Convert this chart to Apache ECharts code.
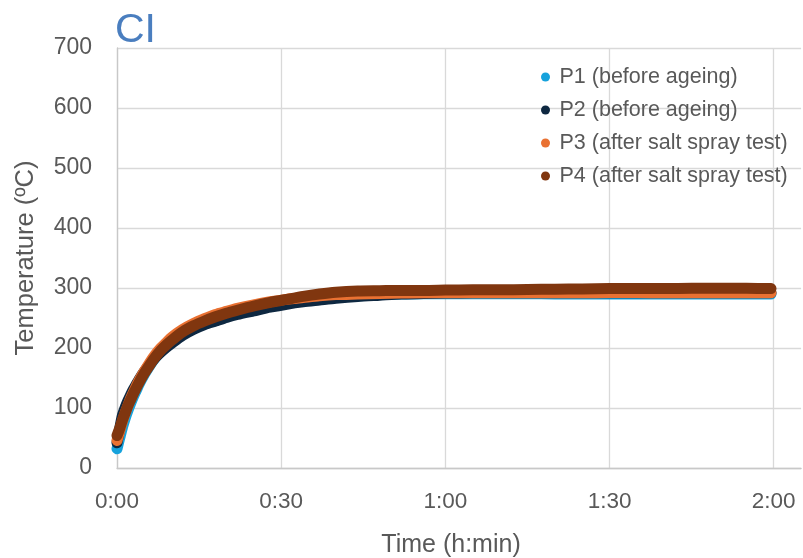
<!DOCTYPE html>
<html>
<head>
<meta charset="utf-8">
<script src="https://cdn.jsdelivr.net/npm/echarts@6/dist/echarts.min.js"></script>
<style>
html,body{margin:0;padding:0;background:#fff;}
#chart{width:803px;height:558px;}
</style>
</head>
<body>
<div id="chart"></div>
<script>
// time in minutes
var times = [0,0.5,1,1.5,2,2.5,3,3.5,4,5,6,7,8,9,10,12,14,16,18,20,22,25,28,31,34,37,40,44,48,52,56,60,65,70,75,80,85,90,95,100,105,110,115,119.5];
var p1 = [32,50,68,83,96,108,119,129,139,156,171,184,195,204,212,224,234,242,249,254,259,266,272,276,280,283,285,287,289,290,290.5,290.5,290.5,290.5,290.5,290,290,290,290,290,290,290,290,290];
var p2 = [42,66,88,101,112,122,131,139,147,161,173,184,193,201,208,221,231,239,245,251,256,262,268,273,277,280,283,286,288,290,291,291.5,292,292,292,292,292,292,292,292,292,292,292,292];
var p3 = [46,62,78,92,104,116,126,136,145,161,176,189,200,209,218,231,241,249,256,261,266,272,277,281,284,287,289,290,291,291.5,292,292,292,292,292,292,292,292.5,292.5,292,292,292,292,292];
var p4 = [54,66,80,92,104,114,124,133,142,158,172,185,196,205,213,227,237,245,252,258,263,270,276,281,286,290,293,295,295.5,296,296,296.5,297,297,297.5,298,298.5,299,299,299,299.5,299.5,299.5,299];
var seriesNames = ['P1 (before ageing)','P2 (before ageing)','P3 (after salt spray test)','P4 (after salt spray test)'];
var seriesColors = ['#16a2dc','#0e2841','#e97132','#80360f'];
var xTicks = [0,30,60,90,120];
var yTicks = [0,100,200,300,400,500,600,700];

function pairs(ys){ return times.map(function(t,i){ return [t, ys[i]]; }); }
var allData = [p1,p2,p3,p4];
var FONT = 'Liberation Sans, Arial, sans-serif';

var chart = echarts.init(document.getElementById('chart'), null, {renderer:'canvas'});
chart.setOption({
  animation:false,
  backgroundColor:'#fff',
  title:{
    text:'CI', left:115, top:10, padding:0,
    textStyle:{color:'#4a7ebf', fontSize:41, fontWeight:'normal', fontFamily:FONT}
  },
  legend:{
    orient:'vertical', left:536, top:61,
    icon:'circle', itemWidth:18, itemHeight:9, itemGap:11,
    textStyle:{color:'#595959', fontSize:21.5, fontFamily:FONT, lineHeight:22},
    data:seriesNames
  },
  grid:{left:117, top:48, bottom:90, right:1.9, containLabel:false, outerBoundsMode:'none'},
  xAxis:{
    type:'value', min:0, max:125, interval:30,
    name:'Time (h:min)', nameLocation:'middle', nameGap:65,
    nameTextStyle:{color:'#595959', fontSize:25, fontFamily:FONT, padding:[0,16,0,0]},
    axisLine:{show:true, lineStyle:{color:'#c8c8c8', width:1.3}},
    axisTick:{show:false},
    splitLine:{show:true, showMaxLine:false, lineStyle:{color:'#d9d9d9', width:1.3}},
    axisLabel:{
      color:'#595959', fontSize:22.5, fontFamily:FONT, margin:22,
      formatter:function(v){
        if (xTicks.indexOf(v) < 0) return '';
        var h = Math.floor(v/60), m = v%60;
        return h + ':' + (m<10?'0':'') + m;
      }
    }
  },
  yAxis:{
    type:'value', min:0, max:700, interval:100,
    name:'Temperature (ºC)', nameLocation:'middle', nameGap:78, nameRotate:90,
    nameTextStyle:{color:'#595959', fontSize:25.5, fontFamily:FONT},
    axisLine:{show:true, lineStyle:{color:'#c8c8c8', width:1.3}},
    axisTick:{show:false},
    splitLine:{show:true, lineStyle:{color:'#d9d9d9', width:1.3}},
    axisLabel:{color:'#595959', fontSize:23, fontFamily:FONT, margin:25,
      formatter:function(v){ return yTicks.indexOf(v) >= 0 ? String(v) : ''; }}
  },
  series: allData.map(function(d,i){
    return {
      name:seriesNames[i], type:'line', data:pairs(d),
      showSymbol:false, smooth:0.25, clip:false,
      color:seriesColors[i],
      itemStyle:{color:seriesColors[i]},
      lineStyle:{color:seriesColors[i], width:11, cap:'round', join:'round'},
      z:2+i
    };
  })
});
</script>
</body>
</html>
